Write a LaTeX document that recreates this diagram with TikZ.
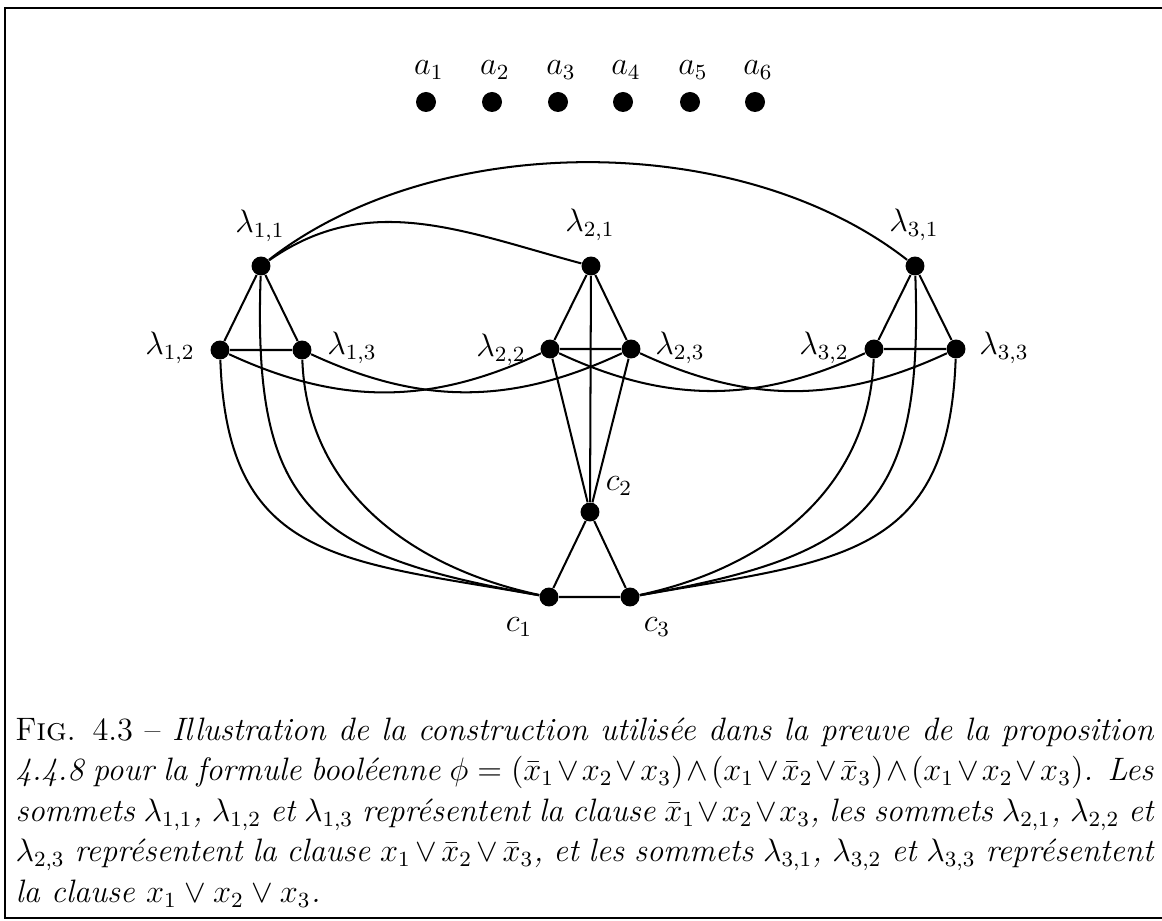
\documentclass[tikz,border=0pt]{standalone}
\begin{document}
\begin{tikzpicture}[x=0.37pt,y=0.37pt,
  dot/.style={circle,fill=black,inner sep=0pt,minimum size=7pt},
  adot/.style={ellipse,fill=black,inner sep=0pt,minimum width=6.8pt,minimum height=7.6pt},
  lab/.style={inner sep=0pt,font=\fontsize{12}{14.5}\selectfont},
  edge/.style={line width=0.75pt},
  frame/.style={line width=0.9pt}]
\useasboundingbox (0,0) rectangle (1162,-921);
\fill[white] (0,0) rectangle (1162,-921);
\coordinate (fr1) at (1162,-8);
\coordinate (fr2) at (5,-8);
\coordinate (fr3) at (5,-918);
\coordinate (fr4) at (1162,-918);
\draw[frame] (fr1) -- (fr2) -- (fr3) -- (fr4);
% a vertices
\foreach \i/\x in {1/426,2/492,3/558,4/623,5/690,6/755} {
  \node[dot,minimum size=7.4pt] (a\i) at (\x,-102) {};
  \node[lab] (la\i) at (\x+3,-70) {$a_{\i}$};
}
% lambda vertices
\node[dot] (l11) at (261,-266) {};
\node[dot] (l12) at (220,-350) {};
\node[dot] (l13) at (302,-350) {};
\node[dot] (l21) at (591,-266) {};
\node[dot] (l22) at (550,-349) {};
\node[dot] (l23) at (631,-349) {};
\node[dot] (l31) at (915,-266) {};
\node[dot] (l32) at (874,-349) {};
\node[dot] (l33) at (956,-349) {};
\node[dot] (c2) at (590,-512) {};
\node[dot] (c1) at (549,-597) {};
\node[dot] (c3) at (630,-597) {};
% labels
\node[lab] (tl11) at (260,-226) {$\lambda_{1,1}$};
\node[lab] (tl21) at (590,-225) {$\lambda_{2,1}$};
\node[lab] (tl31) at (914,-225) {$\lambda_{3,1}$};
\node[lab] (tl12) at (170,-348) {$\lambda_{1,2}$};
\node[lab] (tl13) at (352,-348) {$\lambda_{1,3}$};
\node[lab] (tl22) at (501,-350) {$\lambda_{2,2}$};
\node[lab] (tl23) at (680,-348) {$\lambda_{2,3}$};
\node[lab] (tl32) at (824,-348) {$\lambda_{3,2}$};
\node[lab] (tl33) at (1004,-348) {$\lambda_{3,3}$};
\node[lab] (tc2) at (619,-486) {$c_2$};
\node[lab] (tc1) at (519,-627) {$c_1$};
\node[lab] (tc3) at (657,-627) {$c_3$};
% triangles
\draw[edge] (l11) -- (l12) -- (l13) -- (l11);
\draw[edge] (l21) -- (l22) -- (l23) -- (l21);
\draw[edge] (l31) -- (l32) -- (l33) -- (l31);
\draw[edge] (c1) -- (c2) -- (c3) -- (c1);
% c2 links
\draw[edge] (l21) -- (c2);
\draw[edge] (l22) -- (c2);
\draw[edge] (l23) -- (c2);
% conflict arcs
\draw[edge] (l11) to[out=35,in=165] (l21);
\draw[edge] (l11) to[out=38,in=142,looseness=0.85] (l31);
\draw[edge] (l12) to[bend right=25] (l22);
\draw[edge] (l13) to[bend right=25] (l23);
\draw[edge] (l22) to[bend right=25] (l32);
\draw[edge] (l23) to[bend right=25] (l33);
% clause links
\draw[edge] (l11) to[out=-92,in=170,looseness=1.4] (c1);
\draw[edge] (l12) to[out=-88,in=170,looseness=1.3] (c1);
\draw[edge] (l13) to[out=-88,in=168,looseness=1.0] (c1);
\draw[edge] (l31) to[out=-88,in=10,looseness=1.4] (c3);
\draw[edge] (l33) to[out=-92,in=10,looseness=1.3] (c3);
\draw[edge] (l32) to[out=-92,in=12,looseness=1.0] (c3);
% caption
\node[anchor=north west,text width=421pt,inner sep=0pt,align=justify,
      font=\fontsize{12}{15}\selectfont] (cap) at (15,-717)
{\baselineskip=15pt F\textsc{ig}. 4.3 -- \textit{Illustration de la construction utilisée dans la preuve de la proposition\linebreak
4.4.8 pour la formule booléenne $\phi=(\bar{x}_1\vee x_2\vee x_3)\wedge(x_1\vee\bar{x}_2\vee\bar{x}_3)\wedge(x_1\vee x_2\vee x_3)$. Les\linebreak
sommets $\lambda_{1,1}$, $\lambda_{1,2}$ et $\lambda_{1,3}$ représentent la clause $\bar{x}_1\vee x_2\vee x_3$, les sommets $\lambda_{2,1}$, $\lambda_{2,2}$ et\linebreak
$\lambda_{2,3}$ représentent la clause $x_1\vee\bar{x}_2\vee\bar{x}_3$, et les sommets $\lambda_{3,1}$, $\lambda_{3,2}$ et $\lambda_{3,3}$ représentent\linebreak
la clause $x_1\vee x_2\vee x_3$.}\par};
\end{tikzpicture}
\end{document}
